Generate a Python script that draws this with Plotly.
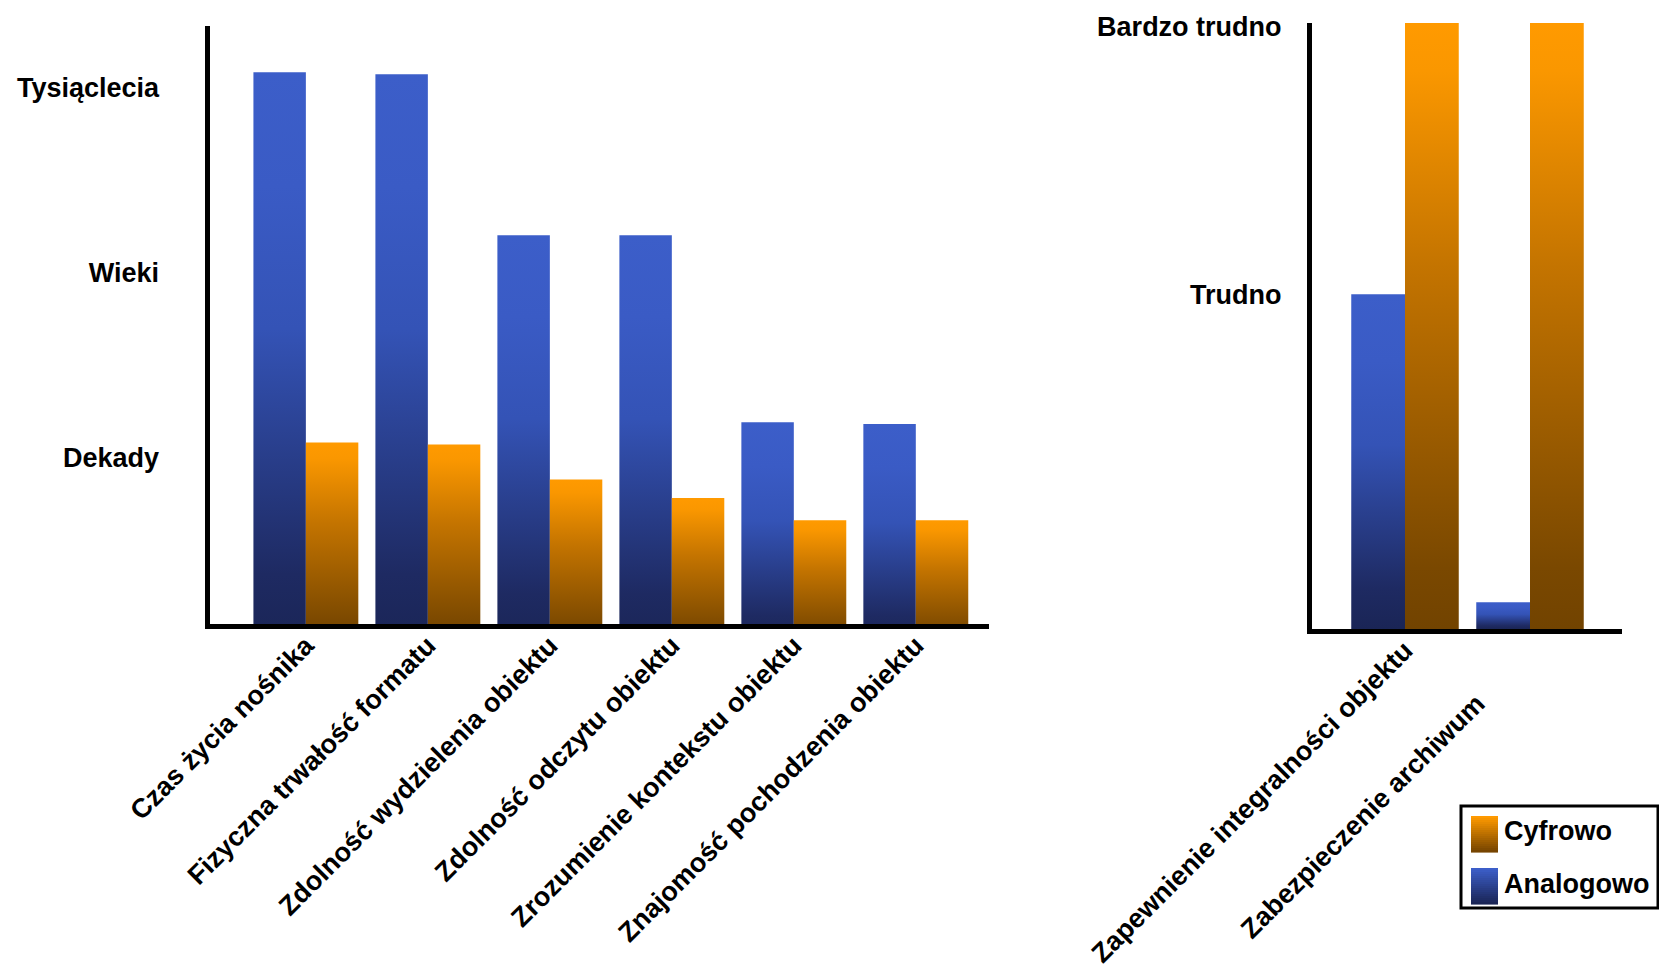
import plotly.graph_objects as go

# ---------------- data ----------------
SERIES = ["Cyfrowo", "Analogowo"]

CATEGORIES_LEFT = [
    "Czas życia nośnika",
    "Fizyczna trwałość formatu",
    "Zdolność wydzielenia obiektu",
    "Zdolność odczytu obiektu",
    "Zrozumienie kontekstu obiektu",
    "Znajomość pochodzenia obiektu",
]
ANALOG_LEFT = [3.08, 3.07, 2.20, 2.20, 1.19, 1.18]
DIGITAL_LEFT = [1.08, 1.07, 0.88, 0.78, 0.66, 0.66]
Y_TICKVALS_LEFT = [1, 2, 3]
Y_TICKTEXT_LEFT = ["Dekady", "Wieki", "Tysiąclecia"]

CATEGORIES_RIGHT = [
    "Zapewnienie integralności objektu",
    "Zabezpieczenie archiwum" + "\u00a0" * 10,
]
ANALOG_RIGHT = [1.00, 0.08]
DIGITAL_RIGHT = [1.81, 1.81]
Y_TICKVALS_RIGHT = [1.0, 1.8]
Y_TICKTEXT_RIGHT = ["Trudno", "Bardzo trudno"]

# ---------------- style ----------------
FONT = "Liberation Sans, Arial, sans-serif"
BLUE_SCALE = [[0, "#1a2556"], [0.12, "#1e2a62"], [0.55, "#3453b6"], [0.8, "#3a5bc5"], [1, "#3c5ec9"]]
ORANGE_SCALE = [[0, "#724300"], [0.1, "#7a4800"], [0.6, "#c47400"], [0.92, "#fa9700"], [1, "#ff9a00"]]
BW = 0.43  # bar width in category units

fig = go.Figure()


def add_bar(xc, offset, value, scale, xa, ya):
    x0 = xc + offset
    x1 = x0 + BW
    fig.add_trace(go.Scatter(
        x=[x0, x1, x1, x0, x0],
        y=[0, 0, value, value, 0],
        mode="lines",
        line=dict(width=0, color="rgba(0,0,0,0)"),
        fill="toself",
        fillgradient=dict(type="vertical", colorscale=scale),
        hoverinfo="skip",
        showlegend=False,
        xaxis=xa, yaxis=ya,
    ))


for i, (a, d) in enumerate(zip(ANALOG_LEFT, DIGITAL_LEFT)):
    add_bar(i, -BW, a, BLUE_SCALE, "x", "y")
    add_bar(i, 0, d, ORANGE_SCALE, "x", "y")

for i, (a, d) in enumerate(zip(ANALOG_RIGHT, DIGITAL_RIGHT)):
    add_bar(i, -BW, a, BLUE_SCALE, "x2", "y2")
    add_bar(i, 0, d, ORANGE_SCALE, "x2", "y2")

W, H = 1659, 965
tickfont = dict(family=FONT, size=27, color="black", weight="bold")
ytickfont = dict(family=FONT, size=27, color="black", weight="bold")
axline = dict(showline=True, linecolor="black", linewidth=5, showgrid=False,
              zeroline=False, ticks="", fixedrange=True, automargin=False)

fig.update_layout(
    width=W, height=H,
    margin=dict(l=0, r=0, t=0, b=0, autoexpand=False),
    paper_bgcolor="white", plot_bgcolor="white",
    showlegend=False,
    xaxis=dict(domain=[209.5 / W, 989 / W], range=[-0.79, 5.6],
               tickmode="array", tickvals=list(range(len(CATEGORIES_LEFT))),
               ticktext=CATEGORIES_LEFT, tickangle=-45, tickfont=tickfont,
               ticklabelstandoff=-10, anchor="y", **axline),
    yaxis=dict(domain=[1 - 624 / H, 1 - 26 / H], range=[0.1, 3.33],
               tickmode="array", tickvals=Y_TICKVALS_LEFT, ticktext=Y_TICKTEXT_LEFT,
               tickfont=ytickfont, ticklabelstandoff=40, anchor="x", **axline),
    xaxis2=dict(domain=[1312 / W, 1622 / W], range=[-0.744, 1.736],
                tickmode="array", tickvals=list(range(len(CATEGORIES_RIGHT))),
                ticktext=CATEGORIES_RIGHT, tickangle=-45, tickfont=tickfont,
                ticklabelstandoff=-10, anchor="y2", **axline),
    yaxis2=dict(domain=[1 - 629 / H, 1 - 23 / H], range=[0, 1.81],
                tickmode="array", tickvals=Y_TICKVALS_RIGHT, ticktext=Y_TICKTEXT_RIGHT,
                tickfont=ytickfont, ticklabelstandoff=20, anchor="x2", **axline),
)


# ---------------- custom legend ----------------
def hex_rgb(h):
    h = h.lstrip("#")
    return tuple(int(h[k:k + 2], 16) for k in (0, 2, 4))


def swatch(top, bottom, x0, y0, w=27, h=36, n=18):
    t, b = hex_rgb(top), hex_rgb(bottom)
    for k in range(n):
        f = k / (n - 1)
        c = tuple(round(t[j] + (b[j] - t[j]) * f) for j in range(3))
        ya = y0 + h * k / n
        yb = y0 + h * (k + 1) / n + 0.6
        fig.add_shape(type="rect", xref="paper", yref="paper",
                      x0=x0 / W, x1=(x0 + w) / W, y0=1 - yb / H, y1=1 - ya / H,
                      line=dict(width=0), fillcolor="rgb(%d,%d,%d)" % c, layer="above")


fig.add_shape(type="rect", xref="paper", yref="paper",
              x0=1461 / W, x1=1658 / W, y0=1 - 908 / H, y1=1 - 806 / H,
              line=dict(color="black", width=3), fillcolor="white", layer="above")
legend_rows = [(SERIES[0], "#ff9a00", "#774500", 816, 831),
               (SERIES[1], "#3c5ec9", "#1a2556", 868, 884)]
for name, top, bottom, sy, ty in legend_rows:
    swatch(top, bottom, 1471, sy)
    fig.add_annotation(text=name, xref="paper", yref="paper", x=1502 / W, y=1 - ty / H,
                       xanchor="left", yanchor="middle", showarrow=False,
                       font=dict(family=FONT, size=27, color="black", weight="bold"))

fig.write_html("out.html", config={"displayModeBar": False})
